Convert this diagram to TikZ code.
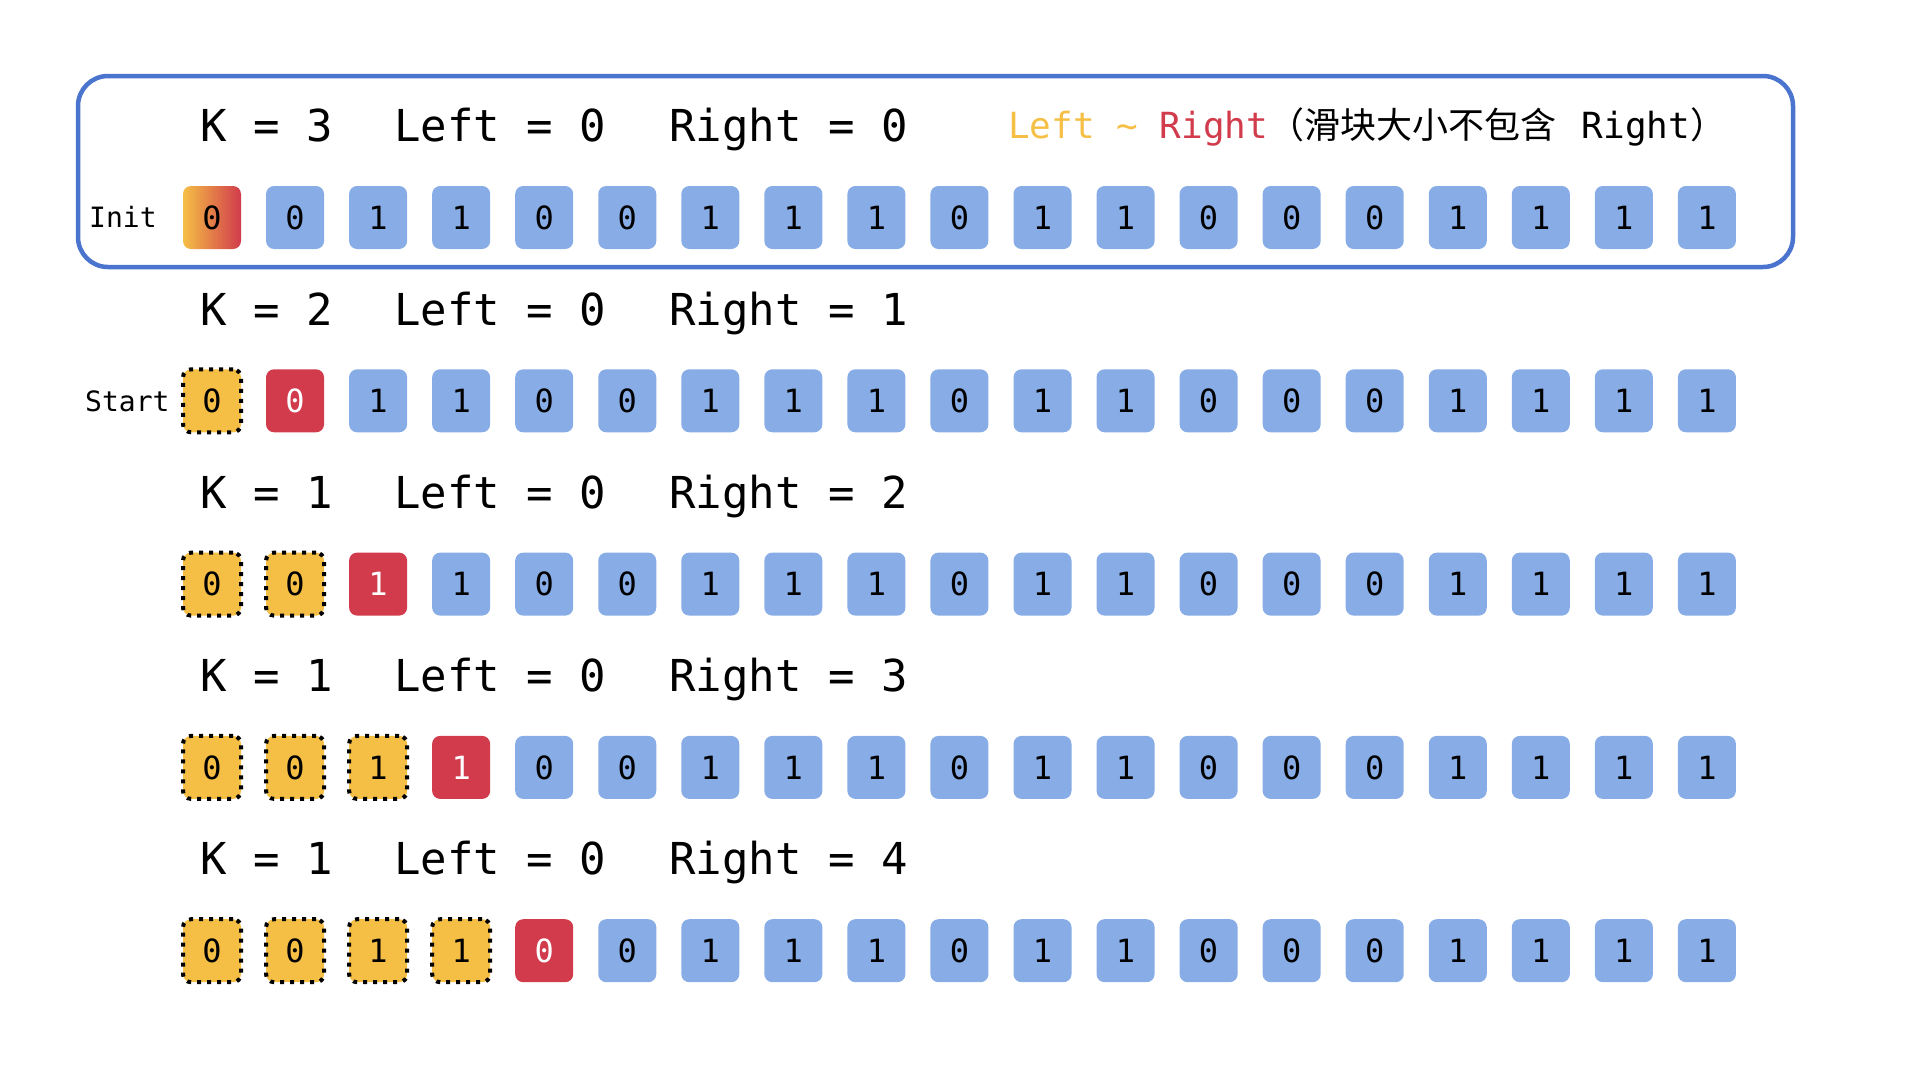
\documentclass[tikz,border=0pt]{standalone}
\usepackage{fontspec}
\setmainfont{DejaVu Sans Mono}
\newfontfamily\cjk{Noto Sans CJK SC}
\definecolor{cellblue}{HTML}{87ACE6}
\definecolor{cellred}{HTML}{D13B4C}
\definecolor{cellyel}{HTML}{F5BF45}
\definecolor{boxblue}{HTML}{4B74CF}
\tikzset{
  cell/.style={rounded corners=8pt, minimum width=58pt, minimum height=63pt, inner sep=0pt, font=\fontsize{32}{36}\selectfont},
  bluecell/.style={cell, fill=cellblue},
  redcell/.style={cell, fill=cellred, text=white},
  yelcell/.style={cell, fill=cellyel, draw=black, line width=4pt, line cap=butt, dash pattern=on 4pt off 6pt},
  gradcell/.style={cell, left color=cellyel, right color=cellred},
  titletext/.style={anchor=base west, inner sep=0pt, font=\fontsize{44}{53}\selectfont},
  subtitle/.style={anchor=base west, inner sep=0pt, font=\fontsize{36}{44}\selectfont},
  sidelabel/.style={anchor=base west, inner sep=0pt, font=\fontsize{28}{33}\selectfont},
  frame/.style={draw=boxblue, line width=4.5pt, rounded corners=30pt}
}
\newcommand\mkcell[4]{\node[#1] (c-#2-#3) at ({212+83.05*#3},{217.5+183.3*#2}) {#4};}
\begin{document}
\begin{tikzpicture}[x=1pt,y=-1pt]
\useasboundingbox (0,0) rectangle (1920,1080);
% frame
\draw[frame] (78,76) rectangle (1793,267);
% titles
\foreach \r/\k/\rt in {0/3/0,1/2/1,2/1/2,3/1/3,4/1/4}{
  \node[titletext] (k-\r) at (200,{141.7+183.3*\r}) {K = \k};
  \node[titletext] (l-\r) at (394,{141.7+183.3*\r}) {Left = 0};
  \node[titletext] (rt-\r) at (669,{141.7+183.3*\r}) {Right = \rt};
}
\node[subtitle] (note) at (1008,138) {{\color{cellyel}Left \textasciitilde{} }{\color{cellred}Right}{\cjk （滑块大小不包含}\hspace{4pt} Right{\cjk ）}};
% side labels
\node[sidelabel] (init) at (89,227) {Init};
\node[sidelabel] (start) at (85,411) {Start};
% cells
\foreach \r in {0,...,4}{
  \foreach \v [count=\j] in {0,0,1,1,0,0,1,1,1,0,1,1,0,0,0,1,1,1,1}{
    \pgfmathtruncatemacro\i{\j-1}
    \ifnum\r=0
      \ifnum\i=0 \mkcell{gradcell}{\r}{\i}{\v}\else\mkcell{bluecell}{\r}{\i}{\v}\fi
    \else
      \ifnum\i<\r \mkcell{yelcell}{\r}{\i}{\v}\else
        \ifnum\i=\r \mkcell{redcell}{\r}{\i}{\v}\else\mkcell{bluecell}{\r}{\i}{\v}\fi
      \fi
    \fi
  }
}
\end{tikzpicture}
\end{document}
